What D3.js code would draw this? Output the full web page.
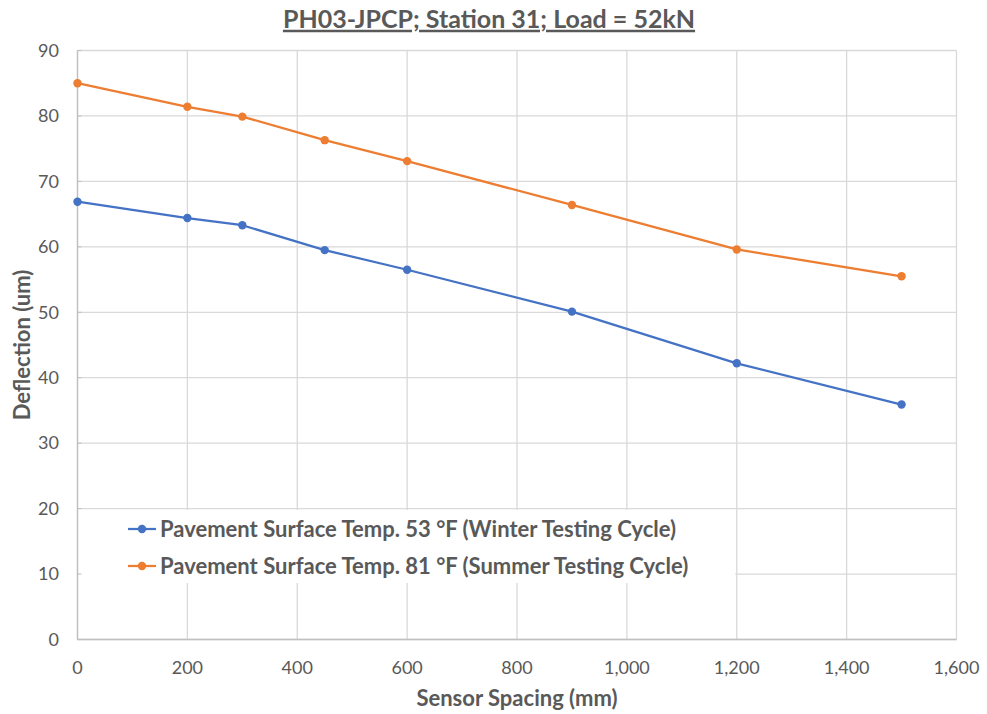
<!DOCTYPE html>
<html><head><meta charset="utf-8">
<script src="https://cdn.jsdelivr.net/npm/d3@7/dist/d3.min.js"></script>
<style>body{margin:0;background:#fff;} text{font-family:Lato,"Open Sans",sans-serif;}</style>
</head><body><svg id="c" width="987" height="714"></svg>
<script>
const spacing = [0, 200, 300, 450, 600, 900, 1200, 1500];
const winter = [66.9, 64.4, 63.3, 59.5, 56.5, 50.1, 42.2, 35.9];
const summer = [85.0, 81.4, 79.9, 76.3, 73.1, 66.4, 59.6, 55.5];
const seriesNames = ["Pavement Surface Temp. 53 °F (Winter Testing Cycle)", "Pavement Surface Temp. 81 °F (Summer Testing Cycle)"];
const xTicks = [0, 200, 400, 600, 800, 1000, 1200, 1400, 1600];
const yTicks = [0, 10, 20, 30, 40, 50, 60, 70, 80, 90];
const title = "PH03-JPCP; Station 31; Load = 52kN";
const xTitle = "Sensor Spacing (mm)";
const yTitle = "Deflection (um)";

const svg = d3.select("#c");
const L = 77.5, R = 956.5, T = 50.5, B = 639.5;
const x = d3.scaleLinear().domain([0, 1600]).range([L, R]);
const y = d3.scaleLinear().domain([0, 90]).range([B, T]);
const grid = "#d9d9d9", txt = "#595959";

// gridlines
svg.append("g").selectAll("line.h").data(yTicks).join("line")
  .attr("x1", L).attr("x2", R).attr("y1", d => y(d)).attr("y2", d => y(d))
  .attr("stroke", grid).attr("stroke-width", 1.3);
svg.append("g").selectAll("line.v").data(xTicks).join("line")
  .attr("x1", d => x(d)).attr("x2", d => x(d)).attr("y1", T).attr("y2", B)
  .attr("stroke", grid).attr("stroke-width", 1.3);

// legend box (covers gridlines)
svg.append("rect").attr("x", L + 1.5).attr("y", 510).attr("width", x(1200) - L - 3).attr("height", 73).attr("fill", "#fff");

// axis lines
svg.append("line").attr("x1", L).attr("x2", L).attr("y1", T).attr("y2", B).attr("stroke", "#bfbfbf").attr("stroke-width", 1.3);
svg.append("line").attr("x1", L).attr("x2", R).attr("y1", B).attr("y2", B).attr("stroke", "#bfbfbf").attr("stroke-width", 1.3);
svg.append("g").selectAll("line").data(yTicks).join("line")
  .attr("x1", L).attr("x2", L + 4).attr("y1", d => y(d)).attr("y2", d => y(d)).attr("stroke", "#bfbfbf");

// tick labels
svg.append("g").selectAll("text").data(yTicks).join("text")
  .attr("x", 59).attr("y", d => y(d)).attr("dy", "0.35em").attr("text-anchor", "end")
  .attr("fill", txt).attr("font-size", 18).text(d => d);
const fmt = d3.format(",");
svg.append("g").selectAll("text").data(xTicks).join("text")
  .attr("x", d => x(d)).attr("y", 668).attr("dy", "0.35em").attr("text-anchor", "middle")
  .attr("fill", txt).attr("font-size", 18).text(d => fmt(d));

// series
const colors = ["#4472C4", "#ED7D31"];
const data = [winter, summer];
const line = d3.line().x((d, i) => x(spacing[i])).y(d => y(d));
data.forEach((s, k) => {
  svg.append("path").datum(s).attr("d", line).attr("fill", "none")
    .attr("stroke", colors[k]).attr("stroke-width", 2.25).attr("stroke-linejoin", "round");
  svg.append("g").selectAll("circle").data(s).join("circle")
    .attr("cx", (d, i) => x(spacing[i])).attr("cy", d => y(d)).attr("r", 4.2).attr("fill", colors[k]);
});

// legend
seriesNames.forEach((n, k) => {
  const ly = 529 + k * 37;
  svg.append("line").attr("x1", 128).attr("x2", 156).attr("y1", ly).attr("y2", ly)
    .attr("stroke", colors[k]).attr("stroke-width", 2.25);
  svg.append("circle").attr("cx", 142).attr("cy", ly).attr("r", 4.2).attr("fill", colors[k]);
  svg.append("text").attr("x", 160).attr("y", ly).attr("dy", "0.35em")
    .attr("fill", txt).attr("font-size", 22).attr("font-weight", "bold").text(n);
});

// titles
svg.append("text").attr("x", 489).attr("y", 19).attr("dy", "0.35em").attr("text-anchor", "middle")
  .attr("fill", txt).attr("font-size", 25).attr("font-weight", "bold")
  .attr("text-decoration", "underline").text(title);
svg.append("text").attr("x", 517).attr("y", 698).attr("dy", "0.35em").attr("text-anchor", "middle")
  .attr("fill", txt).attr("font-size", 22).attr("font-weight", "bold").text(xTitle);
svg.append("text").attr("transform", "translate(22,345) rotate(-90)").attr("dy", "0.35em").attr("text-anchor", "middle")
  .attr("fill", txt).attr("font-size", 22).attr("font-weight", "bold").text(yTitle);
</script></body></html>
